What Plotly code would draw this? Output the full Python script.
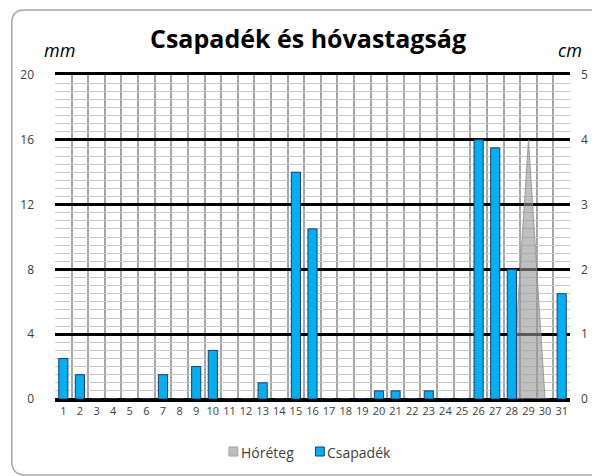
import plotly.graph_objects as go

days = list(range(1, 32))
csapadek_mm = [2.5, 1.5, 0, 0, 0, 0, 1.5, 0, 2, 3,
               0, 0, 1, 0, 14, 10.5, 0, 0, 0, 0.5,
               0.5, 0, 0.5, 0, 0, 16, 15.5, 8, 0, 0, 6.5]
horeteg_cm = [None] * 27 + [0, 4, 0, None]

title_text = "Csapadék és hóvastagság"
left_unit = "mm"
right_unit = "cm"
series_names = ["Hóréteg", "Csapadék"]
mm_ticks = [0, 4, 8, 12, 16, 20]
cm_ticks = [0, 1, 2, 3, 4, 5]

FONT = "Open Sans"
OFF = 8  # page body margin
W, H = 600 - OFF, 476 - OFF
L, R, T, B = 51 - OFF, 575 - OFF, 75 - OFF, 399 - OFF

SNOW_FILL = "rgba(150,150,150,0.6)"
SNOW_LINE = "#a0a0a0"
RAIN_FILL = "#00b0f0"
RAIN_LINE = "#1f3b73"


def px(x):
    return (x - OFF - L) / (R - L)


def py(y):
    return (B - (y - OFF)) / (B - T)


hx = [d for d, v in zip(days, horeteg_cm) if v is not None]
hy = [v for v in horeteg_cm if v is not None]

fig = go.Figure()
fig.add_trace(go.Scatter(x=hx, y=hy, mode="lines", fill="tozeroy", yaxis="y",
                         name=series_names[0],
                         line=dict(color="rgba(140,140,140,0.8)", width=1),
                         fillcolor=SNOW_FILL, showlegend=False))
fig.add_trace(go.Bar(x=days, y=csapadek_mm, name=series_names[1], yaxis="y2",
                     width=0.55, showlegend=False,
                     marker=dict(color=RAIN_FILL, line=dict(color=RAIN_LINE, width=1))))

# legend keys (manual, to match compact spacing)
legend_items = [(series_names[0], 228, "#bfbfbf", SNOW_LINE),
                (series_names[1], 316, RAIN_FILL, RAIN_LINE)]
shapes = [
    dict(type="path", xref="paper", yref="paper",
         path=(f"M {px(620)},{py(10)} L {px(20)},{py(10)} "
               f"Q {px(7)},{py(10)} {px(7)},{py(23)} L {px(7)},{py(461)} "
               f"Q {px(7)},{py(475)} {px(21)},{py(475)} L {px(620)},{py(475)}"),
         line=dict(color="#a6a6a6", width=1.5), layer="below"),
]
annotations = [
    dict(text="<b>" + title_text + "</b>", x=px(308), y=py(38), xref="paper", yref="paper",
         showarrow=False, font=dict(size=25, color="#000000", family=FONT),
         xanchor="center", yanchor="middle"),
    dict(text="<i>" + left_unit + "</i>", x=px(56), y=py(50), xref="paper", yref="paper",
         showarrow=False, font=dict(size=18, color="#000000", family=FONT),
         xanchor="center", yanchor="middle"),
    dict(text="<i>" + right_unit + "</i>", x=px(575), y=py(50), xref="paper", yref="paper",
         showarrow=False, font=dict(size=18, color="#000000", family=FONT),
         xanchor="center", yanchor="middle"),
]
for name, x0, fc, lc in legend_items:
    shapes.append(dict(type="rect", xref="paper", yref="paper",
                       x0=px(x0), x1=px(x0 + 9), y0=py(447), y1=py(456),
                       fillcolor=fc, line=dict(color=lc, width=1)))
    annotations.append(dict(text=name, x=px(x0 + 10), y=py(452), xref="paper", yref="paper",
                            showarrow=False, xanchor="left", yanchor="middle",
                            font=dict(size=14, color="#404040", family=FONT)))

fig.update_layout(
    width=W, height=H,
    margin=dict(l=L, r=W - R, t=T, b=H - B),
    paper_bgcolor="white", plot_bgcolor="white",
    barmode="overlay",
    font=dict(family=FONT, color="#404040", size=12),
    showlegend=False,
    xaxis=dict(range=[0.5, 31.5], tickmode="array", tickvals=days,
               ticktext=[str(d) for d in days], showgrid=False, zeroline=False,
               showline=True, mirror=True, linecolor="#000000", linewidth=2.5,
               ticks="", tickfont=dict(size=11, color="#404040"),
               minor=dict(tickmode="array", tickvals=[d - 0.5 for d in days] + [31.5],
                          showgrid=True, gridcolor="#a6a6a6", gridwidth=1.5, ticks="")),
    yaxis=dict(side="right", range=[0, 5], tickmode="array", tickvals=cm_ticks,
               showgrid=True, gridcolor="#000000", gridwidth=2.5, zeroline=True,
               zerolinecolor="#000000", zerolinewidth=2.5, ticks="", ticklabelstandoff=10,
               tickfont=dict(size=12, color="#404040"),
               minor=dict(dtick=0.125, showgrid=True, gridcolor="#c8c8c8", gridwidth=1)),
    yaxis2=dict(side="left", overlaying="y", range=[0, 20], tickmode="array",
                tickvals=mm_ticks, showgrid=False, zeroline=False, ticks="",
                ticklabelstandoff=20, tickfont=dict(size=12, color="#404040")),
    annotations=annotations,
    shapes=shapes,
)

fig.write_html("out.html")
